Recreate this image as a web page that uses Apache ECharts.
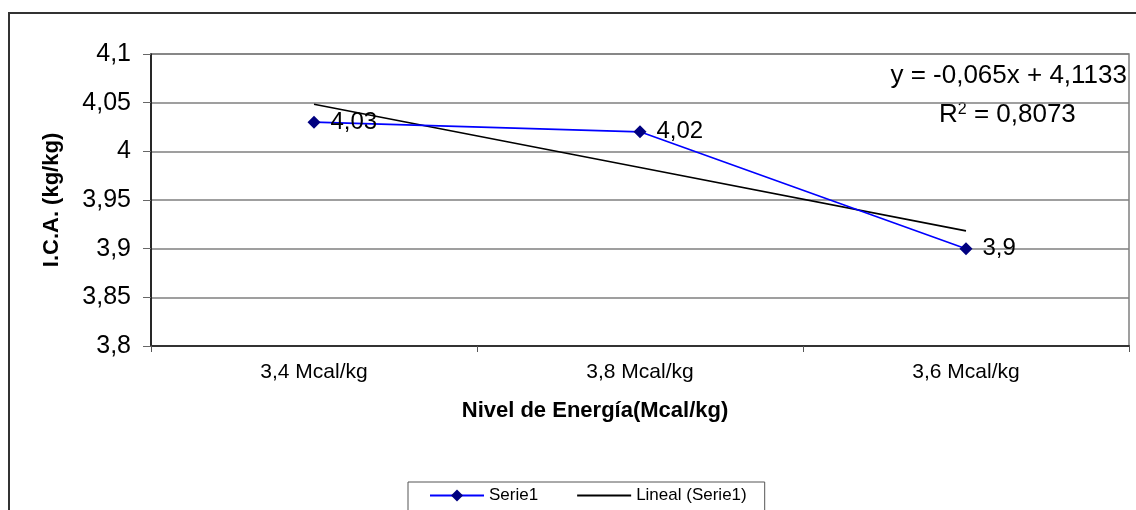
<!DOCTYPE html>
<html>
<head>
<meta charset="utf-8">
<script src="https://cdn.jsdelivr.net/npm/echarts@6/dist/echarts.min.js"></script>
<style>
html,body{margin:0;padding:0;background:#fff;}
#chart{width:1136px;height:510px;}
</style>
</head>
<body>
<div id="chart"></div>
<script>
// Feed conversion index by energy level
const categories = ['3,4 Mcal/kg', '3,8 Mcal/kg', '3,6 Mcal/kg'];
const serie1 = [4.03, 4.02, 3.9];
// Linear trend y = slope*x + intercept over category positions 1..n
const slope = -0.065;
const intercept = 4.1133;
const rSquared = '0,8073';
const yTicks = { min: 3.8, max: 4.1, interval: 0.05 };

const trend = categories.map((c, i) => +(slope * (i + 1) + intercept).toFixed(4));
const fmt = v => String(+v.toFixed(2)).replace('.', ',');
const FONT = '"Liberation Sans", Arial, sans-serif';

const chart = echarts.init(document.getElementById('chart'), null, { renderer: 'canvas' });
chart.setOption({
  animation: false,
  backgroundColor: '#fff',
  textStyle: { fontFamily: FONT },
  grid: {
    left: 151, right: 7, top: 54, bottom: 164, containLabel: false,
    show: true, borderColor: '#808080', borderWidth: 1.5
  },
  xAxis: {
    type: 'category',
    data: categories,
    boundaryGap: true,
    axisLine: { lineStyle: { color: '#333', width: 2 } },
    axisTick: { show: true, inside: false, length: 6, lineStyle: { color: '#555', width: 1 } },
    axisLabel: { color: '#000', fontSize: 21, margin: 16, fontFamily: FONT },
    name: 'Nivel de Energía(Mcal/kg)',
    nameLocation: 'middle',
    nameGap: 54,
    nameTextStyle: {
      color: '#000', fontSize: 22, fontWeight: 'bold', fontFamily: FONT,
      padding: [0, 90, 0, 0]
    },
    splitLine: { show: false }
  },
  yAxis: {
    type: 'value',
    min: yTicks.min,
    max: yTicks.max,
    interval: yTicks.interval,
    axisLine: { show: true, lineStyle: { color: '#000', width: 1.5 } },
    axisTick: { show: true, length: 8, lineStyle: { color: '#666' } },
    axisLabel: { color: '#000', fontSize: 25, margin: 20, fontFamily: FONT, formatter: fmt },
    splitLine: { lineStyle: { color: '#7f7f7f', width: 1.5 } },
    name: 'I.C.A. (kg/kg)',
    nameLocation: 'middle',
    nameGap: 88,
    nameRotate: 90,
    nameTextStyle: { color: '#000', fontSize: 22, fontWeight: 'bold', fontFamily: FONT }
  },
  legend: {
    show: true,
    top: 482,
    left: 408,
    itemGap: 38,
    itemWidth: 54,
    itemHeight: 15,
    padding: [5, 18, 20, 21],
    borderColor: '#555',
    borderWidth: 1,
    textStyle: { color: '#000', fontSize: 17, fontFamily: FONT },
    data: [
      'Serie1',
      { name: 'Lineal (Serie1)', itemStyle: { opacity: 0 } }
    ]
  },
  series: [
    {
      name: 'Lineal (Serie1)',
      type: 'line',
      data: trend,
      symbol: 'none',
      itemStyle: { color: '#000' },
      lineStyle: { color: '#000', width: 1.6 },
      z: 2
    },
    {
      name: 'Serie1',
      type: 'line',
      data: serie1,
      symbol: 'diamond',
      symbolSize: 13,
      itemStyle: { color: '#000080' },
      lineStyle: { color: '#0000ff', width: 1.6 },
      label: {
        show: true,
        position: 'right',
        distance: 10,
        color: '#000',
        fontSize: 24,
        fontFamily: FONT,
        formatter: p => fmt(p.value)
      },
      z: 3
    }
  ],
  graphic: [
    {
      type: 'rect',
      silent: true,
      shape: { x: 9, y: 13, width: 1200, height: 600 },
      style: { fill: null, stroke: '#333', lineWidth: 2 },
      z: -1
    },
    {
      type: 'text',
      right: 9,
      top: 63,
      style: {
        text: 'y = -' + String(-slope).replace('.', ',') + 'x + ' + String(intercept).replace('.', ','),
        fill: '#000',
        font: '26px ' + FONT,
        align: 'right'
      }
    },
    {
      type: 'text',
      left: 939,
      top: 102,
      style: {
        text: '{r|R}{s|2}{r| = ' + rSquared + '}',
        rich: {
          r: { fontSize: 26, fontFamily: FONT, fill: '#000', verticalAlign: 'bottom' },
          s: { fontSize: 16, fontFamily: FONT, fill: '#000', verticalAlign: 'top' }
        }
      }
    }
  ]
});
</script>
</body>
</html>
